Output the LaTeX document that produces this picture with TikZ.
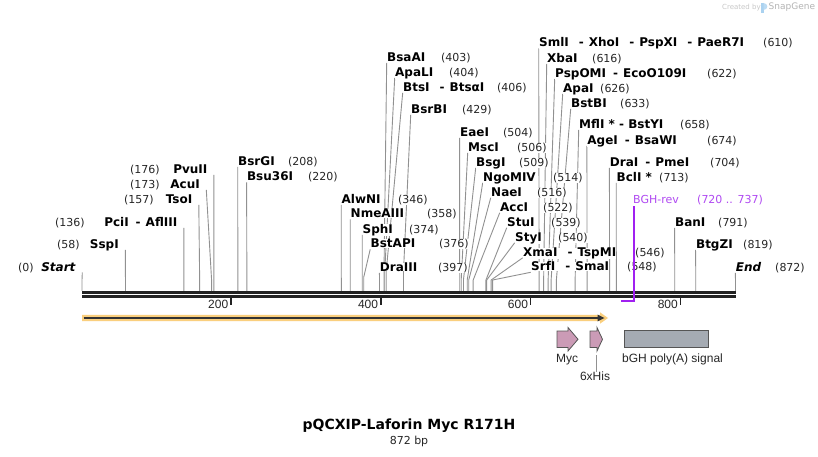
\documentclass[tikz,border=0pt]{standalone}
\usepackage{fontspec}
\setmainfont{DejaVu Sans}
\newfontfamily\featfont{Liberation Sans}
\definecolor{linegray}{RGB}{145,145,145}
\definecolor{bbcol}{RGB}{34,34,34}
\definecolor{primercol}{RGB}{160,32,240}
\definecolor{primertxt}{RGB}{176,74,242}
\definecolor{featpink}{RGB}{203,155,182}
\definecolor{polygray}{RGB}{165,171,179}
\definecolor{orfcol}{RGB}{250,207,126}
\definecolor{orfdark}{RGB}{51,51,51}
\definecolor{featedge}{RGB}{85,85,85}
\definecolor{wmgray}{RGB}{200,200,200}
\definecolor{logoblue}{RGB}{170,210,240}
\pgfdeclarelayer{bglines}
\pgfsetlayers{bglines,main}
\tikzset{
  sitename/.style={inner sep=0pt, fill=white, font=\fontsize{12}{14}\selectfont\bfseries, text=black},
  sitenum/.style={inner sep=0pt, fill=white, font=\fontsize{11}{13}\selectfont, text=black!85},
  siteline/.style={draw=linegray, line width=0.9pt},
  backbone/.style={draw=bbcol, line width=2.7pt},
  tickmark/.style={draw=bbcol, line width=1.6pt},
  ticklabel/.style={inner sep=0pt, font=\featfont\fontsize{12}{14}\selectfont, text=black!85},
  featlabel/.style={inner sep=0pt, font=\featfont\fontsize{12}{14}\selectfont, text=black!85},
  featshape/.style={draw=featedge, line width=0.8pt},
  primerline/.style={draw=primercol, line width=2pt},
  primertext/.style={inner sep=0pt, font=\fontsize{11}{13}\selectfont, text=primertxt},
}
\newcommand\hy{\hspace{7pt}-\hspace{5pt}}
\newcommand\hyw{\hspace{10pt}-\hspace{5pt}}
% right-side site: id, label left x, label y, name, number x, number, bp, knee y
\newcommand\rsite[8]{%
  \node[sitename,anchor=base west] (#1n) at (#2,{#3+4.3}) {#4};
  \node[sitenum,anchor=base west] (#1p) at (#5,{#3+4.3}) {#6};
  \coordinate (#1a) at ({#2-0.3},{#3+5.8});
  \coordinate (#1k) at ({82+0.7494*#7},#8);
  \coordinate (#1c) at ({82+0.7494*#7},290.8);
  \begin{pgfonlayer}{bglines}
  \draw[siteline] (#1a) -- (#1k) -- (#1c);
  \end{pgfonlayer}
}
% left-side site: id, name right x, label y, name, number left x, number, bp, knee y
\newcommand\lsite[8]{%
  \node[sitename,anchor=base east] (#1n) at (#2,{#3+4.3}) {#4};
  \node[sitenum,anchor=base west] (#1p) at (#5,{#3+4.3}) {#6};
  \coordinate (#1a) at ({#2+6.3},{#3+5.8});
  \coordinate (#1k) at ({82+0.7494*#7},#8);
  \coordinate (#1c) at ({82+0.7494*#7},290.8);
  \begin{pgfonlayer}{bglines}
  \draw[siteline] (#1a) -- (#1k) -- (#1c);
  \end{pgfonlayer}
}
\begin{document}
\begin{tikzpicture}[x=1pt,y=-1pt]
\begin{pgfonlayer}{bglines}
\fill[white] (0,0) rectangle (818,457);
\end{pgfonlayer}
\useasboundingbox (0,0) rectangle (818,457);

% watermark
\node[inner sep=0pt, anchor=west, font=\fontsize{7}{8}\selectfont, text=wmgray] (wm1) at (722,7.5) {Created by};
\fill[logoblue] (761,3) rectangle (763.6,13);
\fill[logoblue!80] (763.6,3) .. controls (768.5,3.5) and (768.5,9.5) .. (763.6,10) -- cycle;
\node[inner sep=0pt, anchor=west, font=\fontsize{9}{10}\selectfont, text=wmgray!90!black] (wm2) at (768.5,7.5) {SnapGene};

% backbone
\coordinate (bbL1) at (82,292.3); \coordinate (bbR1) at (735.5,292.3);
\coordinate (bbL2) at (82,296.3); \coordinate (bbR2) at (735.5,296.3);
\draw[backbone] (bbL1) -- (bbR1);
\draw[backbone] (bbL2) -- (bbR2);

% ticks
\foreach \bp in {200,400,600,800}{
  \pgfmathsetmacro\tx{81+0.7494*\bp}
  \coordinate (t\bp a) at (\tx,297.5);
  \coordinate (t\bp b) at (\tx,305);
  \draw[tickmark] (t\bp a) -- (t\bp b);
  \node[ticklabel,anchor=base east] (tl\bp) at ({\tx-2.5},308.5) {\bp};
}

% left-side sites
\lsite{start}{76}{266.7}{\textit{Start}}{18}{(0)}{0}{280}
\lsite{sspi}{119}{244}{SspI}{57}{(58)}{58}{280}
\lsite{pcii}{177.5}{222}{PciI\hy AflIII}{55}{(136)}{136}{280}
\lsite{tsoi}{192.5}{199}{TsoI}{124}{(157)}{157}{280}
\lsite{acui}{200}{184}{AcuI}{130}{(173)}{173}{281}
\lsite{pvuii}{207.6}{169}{PvuII}{130}{(176)}{176}{280}

% right-side sites
\rsite{bsrgi}{238}{161}{BsrGI}{288}{(208)}{208}{278}
\rsite{bsu}{246.9}{176.5}{Bsu36I}{308}{(220)}{220}{278}
\rsite{alwni}{341.5}{199}{AlwNI}{398}{(346)}{346}{278}
\rsite{nme}{350.5}{213.5}{NmeAIII}{427}{(358)}{358}{278}
\rsite{sphi}{362.5}{229}{SphI}{409}{(374)}{374}{278}
\rsite{bstapi}{370.5}{243.5}{BstAPI}{439}{(376)}{376}{277}
\rsite{draiii}{379.7}{267}{DraIII}{438}{(397)}{397}{278}
\rsite{bsaai}{387}{57}{BsaAI}{441}{(403)}{403}{271}
\rsite{apali}{395}{72}{ApaLI}{449}{(404)}{404}{271}
\rsite{btsi}{403}{87}{BtsI\hyw BtsαI}{497}{(406)}{406}{271}
\rsite{bsrbi}{411}{109}{BsrBI}{462}{(429)}{429}{271}
\rsite{eaei}{459.9}{132}{EaeI}{503}{(504)}{504}{280}
\rsite{msci}{468}{147}{MscI}{517}{(506)}{506}{280}
\rsite{bsgi}{476}{162}{BsgI}{519}{(509)}{509}{280}
\rsite{ngo}{483}{177}{NgoMIV}{553}{(514)}{514}{280}
\rsite{naei}{491}{192}{NaeI}{537}{(516)}{516}{280}
\rsite{acci}{500}{207}{AccI}{543}{(522)}{522}{280}
\rsite{stui}{507}{222}{StuI}{551}{(539)}{539}{280}
\rsite{styi}{515}{237}{StyI}{558}{(540)}{540}{280}
\rsite{xmai}{523}{252}{XmaI\hyw TspMI}{635}{(546)}{546}{280}
\rsite{srfi}{531}{266.5}{SrfI\hyw SmaI}{627}{(548)}{548}{280}
\rsite{smli}{539}{42.5}{SmlI\hyw XhoI\hyw PspXI\hyw PaeR7I}{763}{(610)}{610}{280}
\rsite{xbai}{547}{58}{XbaI}{592}{(616)}{616}{280}
\rsite{psp}{555}{73}{PspOMI\hy EcoO109I}{707}{(622)}{622}{280}
\rsite{apai}{563}{88}{ApaI}{600}{(626)}{626}{280}
\rsite{bstbi}{571}{103}{BstBI}{620}{(633)}{633}{280}
\rsite{mfli}{579}{124}{MflI * - BstYI}{680}{(658)}{658}{280}
\rsite{agei}{587.2}{140}{AgeI\hy BsaWI}{707}{(674)}{674}{280}
\rsite{drai}{609.7}{162}{DraI\hy PmeI}{710}{(704)}{704}{280}
\rsite{bcli}{616.5}{177}{BclI *}{659}{(713)}{713}{280}
\rsite{bani}{674.9}{222}{BanI}{718}{(791)}{791}{280}
\rsite{btgzi}{695.9}{244}{BtgZI}{743}{(819)}{819}{280}
\rsite{endsite}{735.6}{267}{\textit{End}}{775}{(872)}{872}{280}

% primer BGH-rev
\node[primertext,anchor=base west] (bghrev) at (633,203) {BGH-rev};
\node[primertext,anchor=base west] (bghrevpos) at (697,203) {(720 .. 737)};
\coordinate (pr1) at (621,300.5);
\coordinate (pr2) at (634,300.5);
\coordinate (pr3) at (634,205.5);
\draw[primerline] (pr1) -- (pr2) -- (pr3);

% ORF arrow
\fill[orfcol] (82,314.8) -- (600,314.8) -- (600,312.3) -- (608,318) -- (600,323.7) -- (600,321.2) -- (82,321.2) -- cycle;
\coordinate (orfL) at (83.5,318);
\coordinate (orfR) at (599,318);
\draw[orfdark, line width=2pt] (orfL) -- (orfR);
\fill[orfdark] (597.5,314.6) -- (604.5,318) -- (597.5,321.4) -- cycle;

% features
\draw[featshape, fill=featpink] (557,331) -- (568,331) -- (568,327.5) -- (578,339.3) -- (568,351) -- (568,347.5) -- (557,347.5) -- cycle;
\draw[featshape, fill=featpink] (590,331) -- (597,331) -- (597,327.5) -- (602.5,339.3) -- (597,351) -- (597,347.5) -- (590,347.5) -- cycle;
\draw[featshape, fill=polygray] (624,330.5) rectangle (708.5,347.5);

\node[featlabel] (myc) at (567,359.5) {Myc};
\node[featlabel] (his) at (595,376.5) {6xHis};
\node[featlabel] (bgh) at (672.5,359.5) {bGH poly(A) signal};
\coordinate (hisftr) at (596.7,355);
\draw[draw=linegray, line width=0.8pt] (hisftr) -- (his.north -| hisftr);

% title
\node[inner sep=0pt, font=\fontsize{14}{16}\selectfont\bfseries] (title) at (409,426) {pQCXIP-Laforin Myc R171H};
\node[inner sep=0pt, font=\fontsize{11}{13}\selectfont, text=black!85] (size) at (409,441.5) {872 bp};
\end{tikzpicture}
\end{document}
